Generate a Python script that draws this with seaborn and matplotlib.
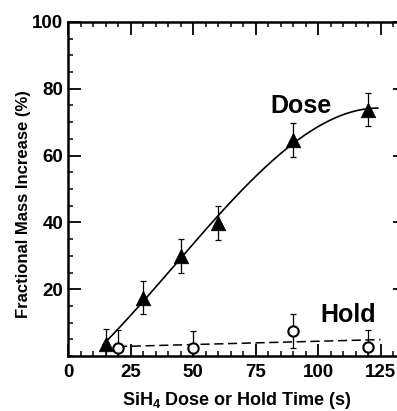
import numpy as np
import pandas as pd
import matplotlib
matplotlib.use("Agg")
import matplotlib.pyplot as plt
import seaborn as sns
from matplotlib.ticker import MultipleLocator, FixedLocator

# ---- data ----
dose_x = [15, 30, 45, 60, 90, 120]
dose_y = [3.5, 17.5, 30.0, 39.8, 64.7, 73.8]
dose_err = [4.7, 5.0, 5.0, 5.0, 5.0, 4.9]

hold_x = [20, 50, 90, 120]
hold_y = [2.5, 2.5, 7.5, 2.8]
hold_err = [5.2, 5.1, 5.0, 5.0]

x_ticks = [0, 25, 50, 75, 100, 125]
y_ticks = [20, 40, 60, 80, 100]

sns.set_theme(style="ticks")
plt.rcParams["font.family"] = ["Liberation Sans", "DejaVu Sans"]
plt.rcParams["font.weight"] = "bold"
plt.rcParams["text.color"] = "black"
plt.rcParams["axes.labelcolor"] = "black"
plt.rcParams["xtick.color"] = "black"
plt.rcParams["ytick.color"] = "black"
plt.rcParams["xtick.labelcolor"] = "black"
plt.rcParams["ytick.labelcolor"] = "black"
plt.rcParams["mathtext.fontset"] = "custom"
plt.rcParams["mathtext.rm"] = "Liberation Sans:bold"
plt.rcParams["mathtext.bf"] = "Liberation Sans:bold"

fig = plt.figure(figsize=(3.97, 4.11), dpi=100)
ax = fig.add_axes([68 / 397, 55 / 411, 337 / 397, 334 / 411])

# fitted curves (least squares fits to the data)
cd = np.polyfit(dose_x, dose_y, 3)
xd = np.linspace(14, 124, 200)
fit_dose = pd.DataFrame({"x": xd, "y": np.polyval(cd, xd)})
ch = np.polyfit(hold_x, hold_y, 1)
xh = np.linspace(20, 125, 50)
fit_hold = pd.DataFrame({"x": xh, "y": np.polyval(ch, xh)})

sns.lineplot(data=fit_dose, x="x", y="y", ax=ax, color="black", lw=1.2, zorder=2)
sns.lineplot(data=fit_hold, x="x", y="y", ax=ax, color="black", lw=1.1,
             zorder=2).lines[-1].set_dashes([6, 3])

ax.errorbar(dose_x, dose_y, yerr=dose_err, fmt="none", ecolor="black",
            elinewidth=0.9, capsize=2.3, capthick=0.9, zorder=3)
ax.errorbar(hold_x, hold_y, yerr=hold_err, fmt="none", ecolor="black",
            elinewidth=0.9, capsize=2.3, capthick=0.9, zorder=3)

sns.scatterplot(x=dose_x, y=dose_y, ax=ax, marker="^", s=110, color="black",
                edgecolor="black", linewidth=0.5, zorder=4)
sns.scatterplot(x=hold_x, y=hold_y, ax=ax, marker="o", s=55, color="white",
                edgecolor="black", linewidth=1.5, zorder=4)

ax.set_xlim(0, 134.8)
ax.set_ylim(0, 100)

ax.xaxis.set_major_locator(FixedLocator(x_ticks))
ax.xaxis.set_minor_locator(MultipleLocator(5))
ax.yaxis.set_major_locator(FixedLocator(y_ticks))
ax.yaxis.set_minor_locator(MultipleLocator(5))
ax.set_xticklabels([str(t) for t in x_ticks])
ax.set_yticklabels([str(t) for t in y_ticks])

ax.tick_params(which="major", direction="in", length=9, width=1.3,
               top=True, right=True, labelsize=13.5, color="black")
ax.tick_params(axis="x", which="major", pad=6)
ax.tick_params(axis="y", which="major", pad=3.5)
ax.tick_params(which="minor", direction="in", length=3.5, width=1.1,
               top=True, right=False, color="black")
for lab in ax.get_xticklabels() + ax.get_yticklabels():
    lab.set_fontweight("bold")

for sp in ax.spines.values():
    sp.set_linewidth(1.8)
    sp.set_color("black")

ax.set_xlabel("SiH$_{4}$ Dose or Hold Time (s)", fontsize=13, fontweight="bold",
              labelpad=6.5)
ax.set_ylabel("Fractional Mass Increase (%)", fontsize=12, fontweight="bold")
ax.yaxis.set_label_coords(-0.11, 0.455)

ax.text(81, 72.7, "Dose", fontsize=18, fontweight="bold", ha="left", va="baseline")
ax.text(100.8, 10.3, "Hold", fontsize=18, fontweight="bold", ha="left", va="baseline")

fig.savefig("out.png", dpi=100)
